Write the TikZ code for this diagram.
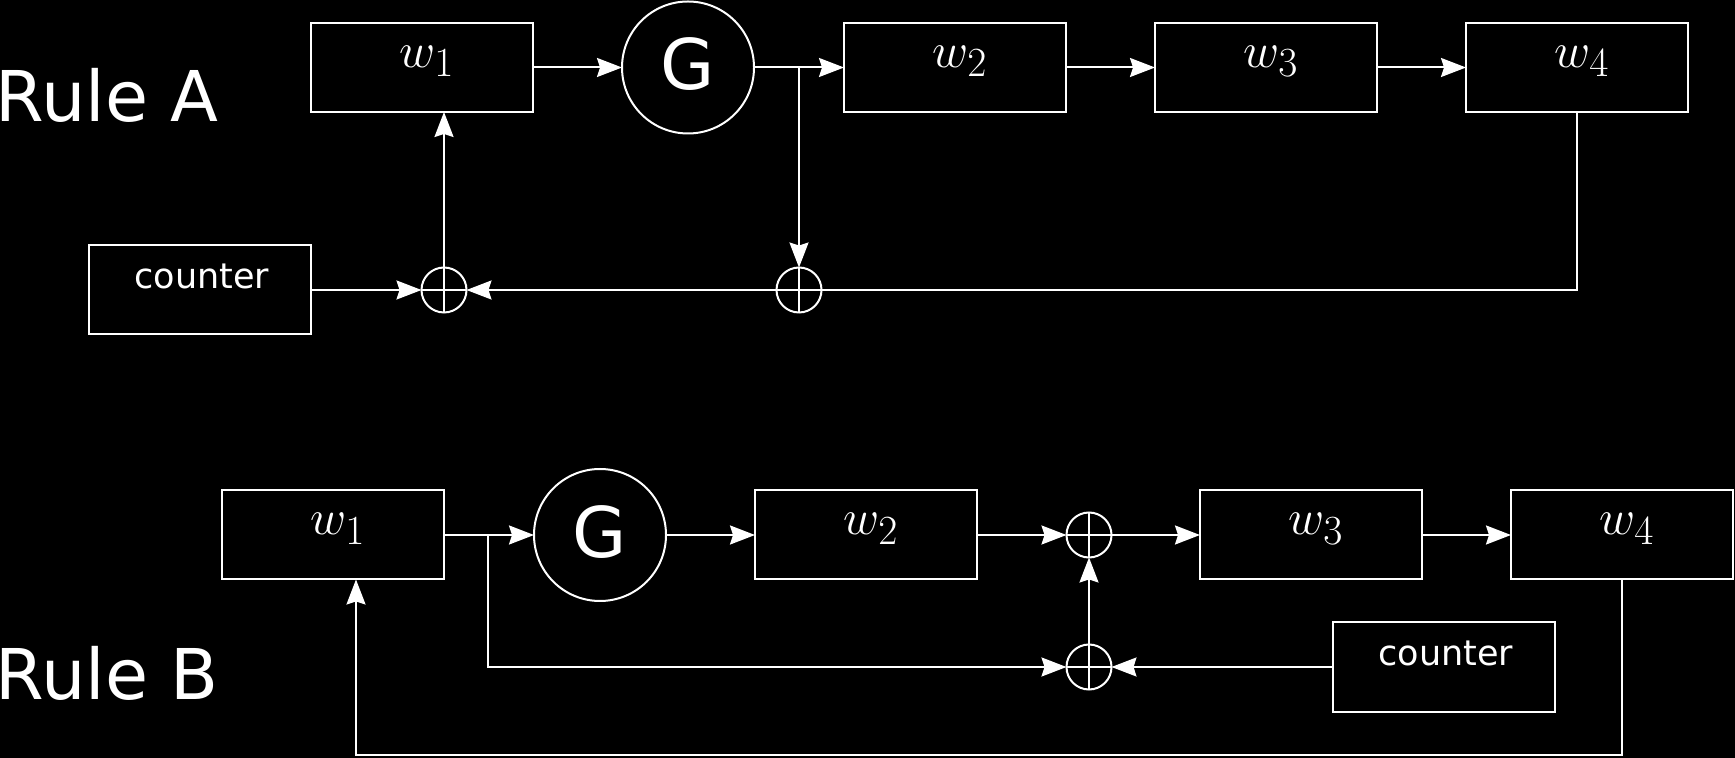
\documentclass[tikz,border=0pt]{standalone}
\usepackage{fontspec}
\newfontfamily\dv{DejaVu Sans}
\usetikzlibrary{arrows.meta}
\DeclareMathSizes{25}{25}{20}{16}
\begin{document}
\begin{tikzpicture}[x=0.5pt,y=-0.5pt,
  every path/.style={line width=1pt},
  arr/.style={draw=white,line width=1pt,-{Stealth[length=12.5pt,width=9.5pt,inset=1.5pt]}},
  ln/.style={draw=white,line width=1pt},
  box/.style={rectangle,draw=white,line width=1pt,minimum width=111pt,minimum height=44.5pt,inner sep=0pt,outer sep=0pt},
  gcirc/.style={circle,draw=white,line width=1pt,minimum size=66pt,inner sep=0pt,outer sep=0pt,text=white,font=\dv\fontsize{35}{40}\selectfont},
  sumc/.style={circle,draw=white,line width=1pt,minimum size=22.5pt,inner sep=0pt,outer sep=0pt,
    path picture={\draw[white,line width=1pt] (path picture bounding box.north) -- (path picture bounding box.south)
      (path picture bounding box.west) -- (path picture bounding box.east);}},
  wlab/.style={anchor=base,inner sep=0pt,text=white,font=\fontsize{25}{30}\selectfont},
  clab/.style={anchor=base,inner sep=0pt,text=white,font=\dv\fontsize{17.5}{20}\selectfont},
  rlab/.style={anchor=base west,inner sep=0pt,text=white,font=\dv\fontsize{35}{40}\selectfont}]
\useasboundingbox (0,0) rectangle (1735,758);
\fill[black] (0,0) rectangle (1735,758);

% ---------- Rule A ----------
\node[rlab] (ruleA) at (-5,122) {Rule A};
\node[box] (w1A) at (422,67.5) {};
\node[gcirc] (GA) at (688,67.5) {\raisebox{3.5pt}{G}};
\node[box] (w2A) at (955,67.5) {};
\node[box] (w3A) at (1266,67.5) {};
\node[box] (w4A) at (1577,67.5) {};
\node[box] (cA) at (200,290) {};
\node[sumc] (sA1) at (444,290) {};
\node[sumc] (sA2) at (799,290) {};
\node[wlab] (lw1A) at ([xshift=2.5pt,yshift=0.2pt]w1A.center) {$w_1$};
\node[wlab] (lw2A) at ([xshift=2.5pt,yshift=0.2pt]w2A.center) {$w_2$};
\node[wlab] (lw3A) at ([xshift=2.5pt,yshift=0.2pt]w3A.center) {$w_3$};
\node[wlab] (lw4A) at ([xshift=2.5pt,yshift=0.2pt]w4A.center) {$w_4$};
\node[clab] (lcA) at ([xshift=1pt,yshift=0.5pt]cA.center) {counter};
\coordinate (bA) at (799,67.5);

\draw[arr] (w1A.east) -- (GA.west);
\draw[arr] (GA.east) -- (w2A.west);
\draw[arr] (bA) -- (sA2.north);
\draw[arr] (w2A.east) -- (w3A.west);
\draw[arr] (w3A.east) -- (w4A.west);
\draw[ln] (w4A.south) |- (sA2.east);
\draw[arr] (sA2.west) -- (sA1.east);
\draw[arr] (cA.east) -- (sA1.west);
\draw[arr] (sA1.north) -- (sA1 |- w1A.south);

% ---------- Rule B ----------
\node[rlab] (ruleB) at (-5,699) {Rule B};
\node[box] (w1B) at (333,535) {};
\node[gcirc] (GB) at (600,535) {\raisebox{3.5pt}{G}};
\node[box] (w2B) at (866,535) {};
\node[sumc] (sB1) at (1089,535) {};
\node[box] (w3B) at (1311,535) {};
\node[box] (w4B) at (1622,535) {};
\node[sumc] (sB2) at (1089,667) {};
\node[box] (cB) at (1444,667) {};
\node[wlab] (lw1B) at ([xshift=2.5pt,yshift=0.2pt]w1B.center) {$w_1$};
\node[wlab] (lw2B) at ([xshift=2.5pt,yshift=0.2pt]w2B.center) {$w_2$};
\node[wlab] (lw3B) at ([xshift=2.5pt,yshift=0.2pt]w3B.center) {$w_3$};
\node[wlab] (lw4B) at ([xshift=2.5pt,yshift=0.2pt]w4B.center) {$w_4$};
\node[clab] (lcB) at ([xshift=1pt,yshift=0.5pt]cB.center) {counter};
\coordinate (bB) at (488,535);
\coordinate (cl) at (356,755);

\draw[arr] (w1B.east) -- (GB.west);
\draw[arr] (bB) |- (sB2.west);
\draw[arr] (GB.east) -- (w2B.west);
\draw[arr] (w2B.east) -- (sB1.west);
\draw[arr] (sB1.east) -- (w3B.west);
\draw[arr] (w3B.east) -- (w4B.west);
\draw[arr] (cB.west) -- (sB2.east);
\draw[arr] (sB2.north) -- (sB1.south);
\draw[arr] (w4B.south) |- (cl) -- (cl |- w1B.south);
\end{tikzpicture}
\end{document}
